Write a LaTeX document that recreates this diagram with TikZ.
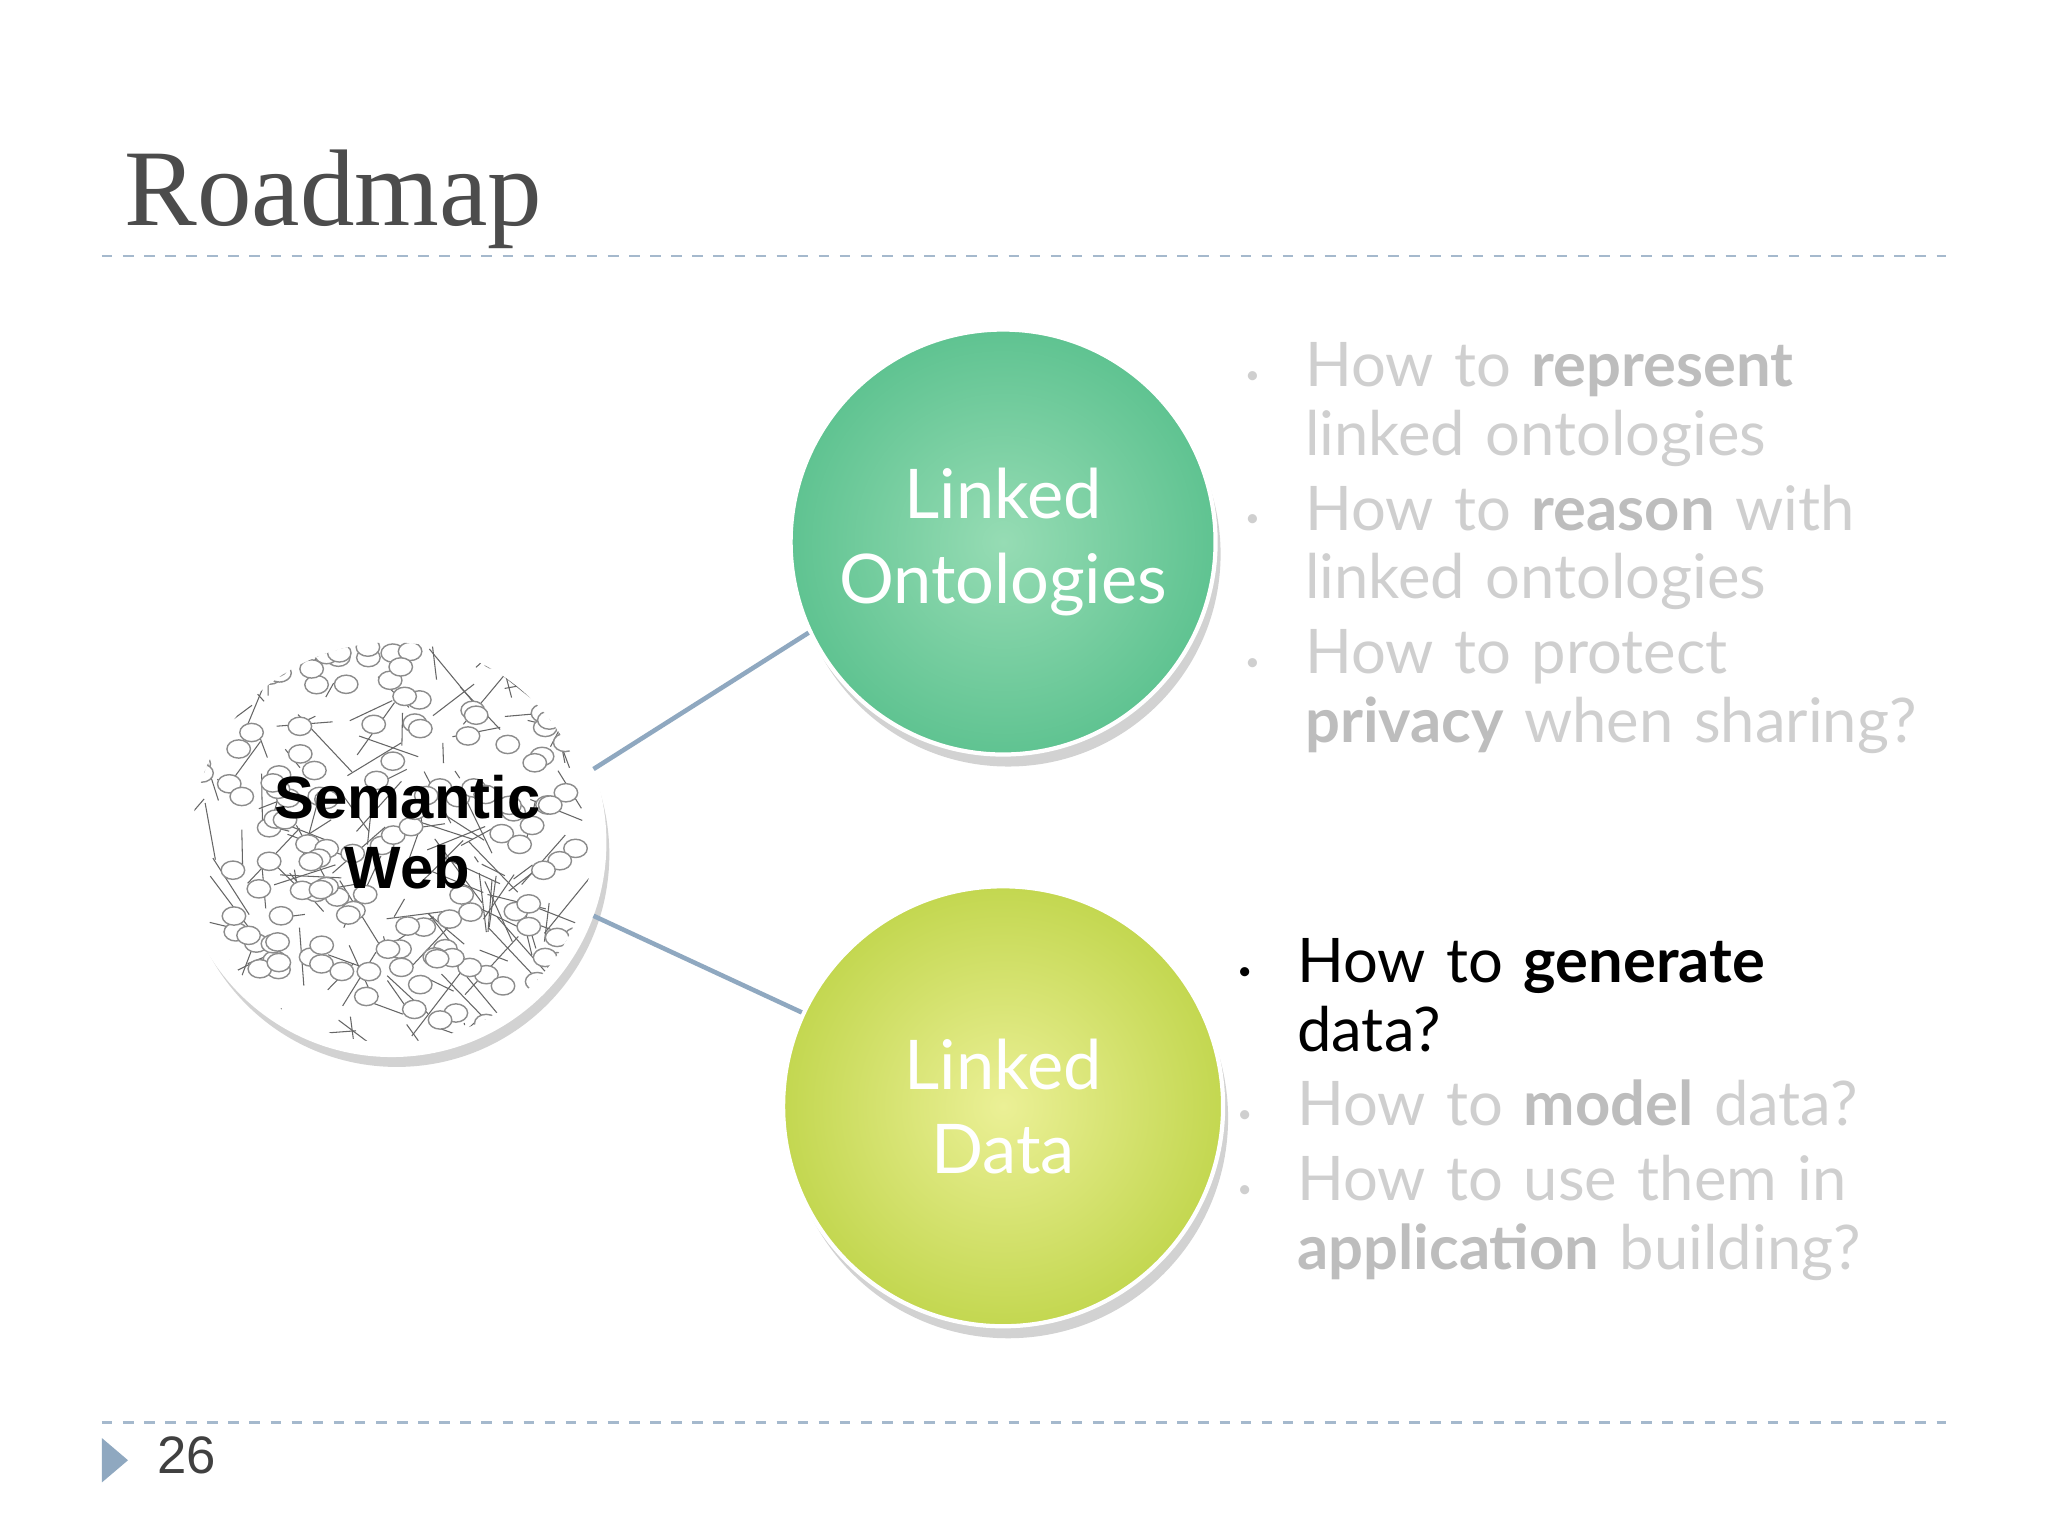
\documentclass[tikz,border=0pt]{standalone}
\usepackage{fontspec}
\setmainfont{Liberation Serif}
\newfontfamily\bodyf{Lato}
\newfontfamily\arialf{Liberation Sans}
\usetikzlibrary{shadows}
\definecolor{lg}{HTML}{CFCFCF}
\definecolor{lgb}{HTML}{BDBDBD}
\definecolor{linec}{HTML}{8FA8C0}
\tikzset{
  bul/.style={anchor=north west,align=left,font=\bodyf\fontsize{17.5}{19.5}\selectfont,text width=12cm,inner sep=0},
  ball/.style={circle,minimum size=4.3cm,draw=white,line width=1.2pt,drop shadow={opacity=0.35,shadow xshift=0.5mm,shadow yshift=-1.2mm}},
  conn/.style={draw=linec,line width=1.3pt}
}
\newcommand{\bb}[1]{\makebox[17pt][l]{\raisebox{1pt}{\scriptsize #1}}}
\begin{document}
\begin{tikzpicture}[x=0.013061cm,y=-0.013061cm]
\useasboundingbox (0,0) rectangle (1568,1176);
\fill[white] (0,0) rectangle (1568,1176);
\node[anchor=base west,font=\fontsize{31}{32}\selectfont,text=black!70,inner sep=0] (title) at (95,173) {Roadmap};
\draw[linec!80,dashed,line width=0.8pt] (78,196) -- (1490,196);
\draw[linec!80,dashed,line width=0.8pt] (78,1089) -- (1490,1089);
\fill[linec] (78,1101) -- (98,1118) -- (78,1135) -- cycle;
\node[anchor=base west,font=\arialf\fontsize{15}{16}\selectfont,text=black!75,inner sep=0] (pg) at (120,1128) {26};
% semantic web
\node[ball,minimum size=4.25cm,fill=white] (sw) at (300,645) {};
\pgfmathsetseed{7}
\begin{scope}
\clip (sw.center) circle (2.0cm);
\foreach \i in {1,...,160}{
  \pgfmathsetmacro{\ax}{300+150*rand}\pgfmathsetmacro{\ay}{645+150*rand}
  \pgfmathsetmacro{\bx}{\ax+50*rand}\pgfmathsetmacro{\by}{\ay+50*rand}
  \draw[black!60,line width=0.3pt] (\ax,\ay) -- (\bx,\by);
}
\foreach \i in {1,...,150}{
  \pgfmathsetmacro{\ax}{300+150*rand}\pgfmathsetmacro{\ay}{645+150*rand}
  \draw[black!45,fill=white,line width=0.4pt] (\ax,\ay) ellipse (9 and 7);
}
\end{scope}
\node[font=\arialf\bfseries\fontsize{17}{20}\selectfont,align=center] (swt) at (312,637) {Semantic\\Web};
% circles
\node[ball,minimum size=4.25cm,inner color={rgb,255:red,150;green,220;blue,180},outer color={rgb,255:red,95;green,195;blue,145}] (lo) at (768,415) {};
\node[font=\bodyf\fontsize{19.5}{24}\selectfont,text=white,align=center] at (lo) {Linked\\Ontologies};
\node[ball,minimum size=4.4cm,inner color={rgb,255:red,235;green,240;blue,150},outer color={rgb,255:red,195;green,215;blue,80}] (ld) at (768,847) {};
\node[font=\bodyf\fontsize{19.5}{24}\selectfont,text=white,align=center] at (ld) {Linked\\Data};
\draw[conn] (sw.20) -- (lo.205);
\draw[conn] (sw.-20) -- (ld.155);
% bullets
\node[bul,text=lg] (b1) at (953,262) {%
\bb{\textbullet}How to \textbf{\color{lgb}represent}\\\hspace*{17pt}linked ontologies\\[0.2ex]
\bb{\textbullet}How to \textbf{\color{lgb}reason} with\\\hspace*{17pt}linked ontologies\\[0.2ex]
\bb{\textbullet}How to protect\\\hspace*{17pt}\textbf{\color{lgb}privacy} when sharing?};
\node[bul,text=lg] (b2) at (947,718) {%
\bb{\color{black}\textbullet}{\color{black}How to \textbf{generate}}\\\hspace*{17pt}{\color{black}data?}\\[0.2ex]
\bb{\textbullet}How to \textbf{\color{lgb}model} data?\\[0.2ex]
\bb{\textbullet}How to use them in\\\hspace*{17pt}\textbf{\color{lgb}application} building?};
\end{tikzpicture}
\end{document}
